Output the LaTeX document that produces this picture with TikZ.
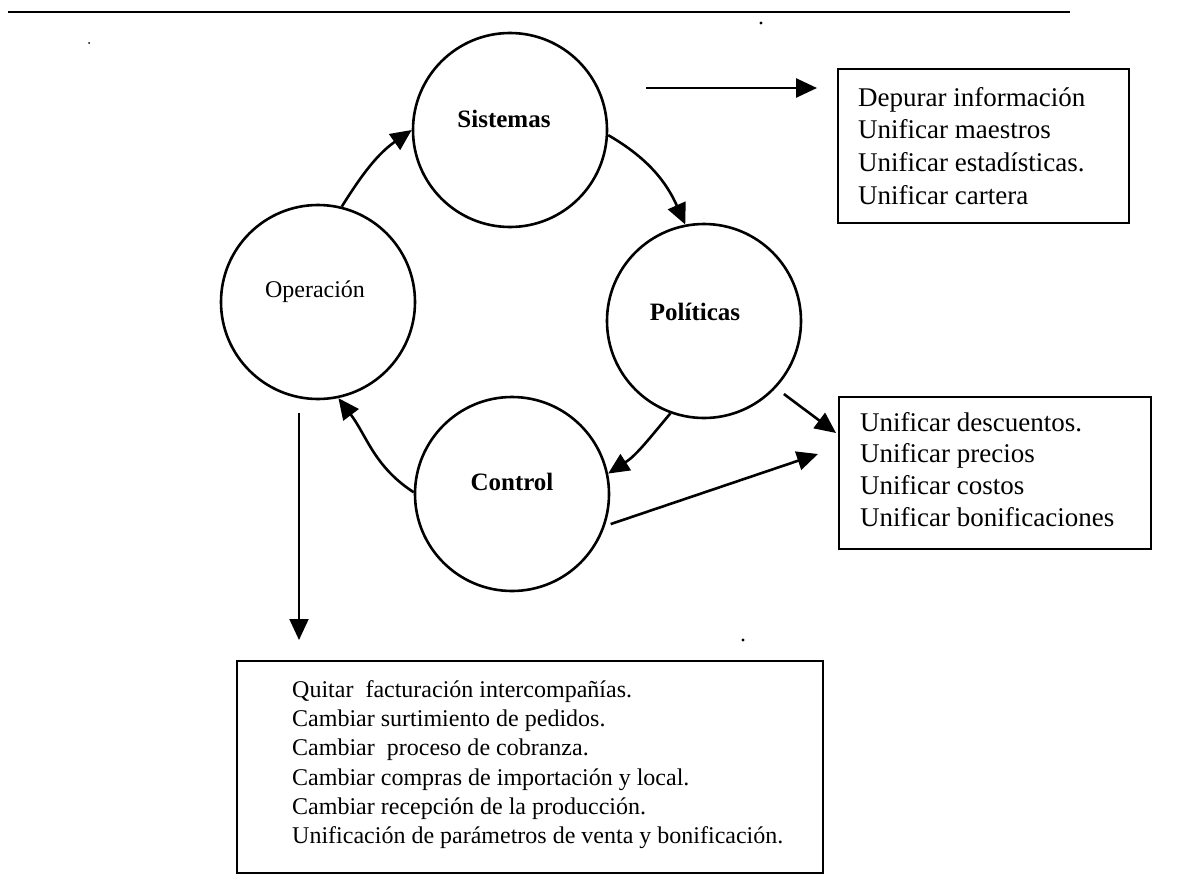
\documentclass[tikz,border=0pt]{standalone}
\usepackage{fontspec}
\setmainfont{Liberation Serif}
\usetikzlibrary{arrows.meta}
\begin{document}
\begin{tikzpicture}[x=1bp,y=1bp,
  stage/.style={circle, draw, line width=2.6bp, minimum size=194bp, inner sep=0pt},
  stagelbl/.style={anchor=base, inner sep=0pt, font=\fontsize{25bp}{30bp}\selectfont\bfseries},
  flow/.style={line width=2.6bp, -{Triangle[length=21bp,width=19bp]}},
  listbox/.style={draw, line width=2.2bp, inner sep=0pt, anchor=north west},
  item/.style={anchor=base west, inner sep=0pt, font=\fontsize{27bp}{32bp}\selectfont},
  itemsm/.style={anchor=base west, inner sep=0pt, font=\fontsize{24bp}{29bp}\selectfont},
]
\useasboundingbox (0,0) rectangle (1187,-886);

% header rule
\draw[line width=2.6bp] (8,-12) -- (1070,-12);

% the four stages of the cycle
\node[stage] (sis) at (510,-130) {};
\node[stage] (op)  at (318,-302) {};
\node[stage] (pol) at (704,-321) {};
\node[stage] (ctl) at (512,-494) {};

\node[stagelbl] (sislbl) at (504,-127) {Sistemas};
\node[stagelbl, font=\fontsize{24bp}{29bp}\selectfont] (oplbl) at (315,-297) {Operación};
\node[stagelbl] (pollbl) at (695,-320) {Políticas};
\node[stagelbl] (ctllbl) at (512,-490) {Control};

% cycle arrows
\draw[flow] (op.76)   to[out=58,  in=215] (sis.180);
\draw[flow] (sis.-3)  to[out=-30, in=114] (pol.101);
\draw[flow] (pol.250) to[out=230, in=33]  (ctl.12);
\draw[flow] (ctl.179) to[out=147, in=307] (op.282);

% action lists
\node[listbox, minimum width=291bp, minimum height=154bp] (box1) at (837,-68) {};
\node[listbox, minimum width=312bp, minimum height=152bp] (box2) at (838,-396) {};
\node[listbox, minimum width=586bp, minimum height=212bp] (box3) at (236,-660) {};

\foreach \t [count=\i] in {Depurar información, Unificar maestros, Unificar estadísticas., Unificar cartera}
  \node[item] (lista\i) at (858, {-106-32.7*(\i-1)}) {\t};

\foreach \t [count=\i] in {Unificar descuentos., Unificar precios, Unificar costos, Unificar bonificaciones}
  \node[item] (listb\i) at (860, {-431-31.7*(\i-1)}) {\t};

\foreach \t [count=\i] in {Quitar\ \ facturación intercompañías., Cambiar surtimiento de pedidos., Cambiar\ \ proceso de cobranza., Cambiar compras de importación y local., Cambiar recepción de la producción., Unificación de parámetros de venta y bonificación.}
  \node[itemsm] (listc\i) at (292, {-697.5-29.2*(\i-1)}) {\t};

% arrows towards the lists
\coordinate (sa) at (646,-88);
\coordinate (sb) at (817,-88);
\coordinate (pb) at (836,-433);
\coordinate (cb) at (818,-454);
\coordinate (oa) at (299,-413);
\coordinate (ob) at (299,-640);

\draw[flow] (sa) -- (sb);
\draw[flow, shorten <=10bp] (pol.-43.5) -- (pb);
\draw[flow, shorten <=6bp] (ctl.-19.3) -- (cb);
\draw[flow, line width=2bp] (oa) -- (ob);

% specks
\fill (761,-23) circle (1.6bp);
\fill (89,-43) circle (1bp);
\fill (743,-640) circle (1.6bp);
\end{tikzpicture}
\end{document}
